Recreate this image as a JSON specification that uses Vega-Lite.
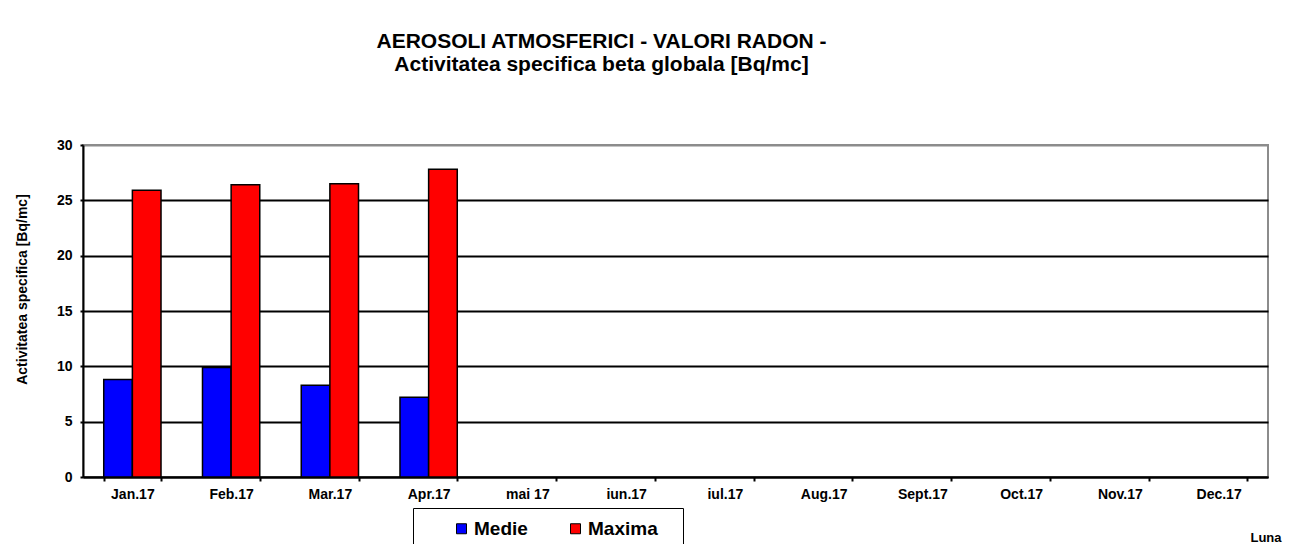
{
  "$schema": "https://vega.github.io/schema/vega-lite/v6.json",
  "autosize": {"type": "none"},
  "width": 1185,
  "height": 332,
  "padding": {"left": 83, "top": 145, "right": 24, "bottom": 67},
  "background": "white",
  "title": {
    "text": ["AEROSOLI ATMOSFERICI - VALORI RADON -", "Activitatea specifica beta globala [Bq/mc]"],
    "font": "Liberation Sans",
    "fontSize": 21,
    "fontWeight": "bold",
    "color": "black",
    "anchor": "middle",
    "dx": -74,
    "offset": 63,
    "lineHeight": 23
  },
  "config": {
    "view": {"stroke": "#8c8c8c", "strokeWidth": 2},
    "font": "Liberation Sans"
  },
  "data": {
    "values": [
      {"month": "Jan.17", "series": "Medie", "value": 8.8},
      {"month": "Jan.17", "series": "Maxima", "value": 25.9},
      {"month": "Feb.17", "series": "Medie", "value": 9.9},
      {"month": "Feb.17", "series": "Maxima", "value": 26.4},
      {"month": "Mar.17", "series": "Medie", "value": 8.3},
      {"month": "Mar.17", "series": "Maxima", "value": 26.5},
      {"month": "Apr.17", "series": "Medie", "value": 7.2},
      {"month": "Apr.17", "series": "Maxima", "value": 27.8}
    ]
  },
  "mark": {"type": "bar", "stroke": "black", "strokeWidth": 1.5},
  "encoding": {
    "x": {
      "field": "month",
      "type": "nominal",
      "sort": null,
      "scale": {
        "domain": ["Jan.17", "Feb.17", "Mar.17", "Apr.17", "mai 17", "iun.17", "iul.17", "Aug.17", "Sept.17", "Oct.17", "Nov.17", "Dec.17"],
        "paddingInner": 0.42,
        "paddingOuter": 0.21
      },
      "axis": {
        "labelAngle": 0,
        "tickBand": "extent",
        "ticks": true,
        "tickSize": 4,
        "tickColor": "black",
        "tickWidth": 2,
        "domainColor": "black",
        "domainWidth": 2,
        "labelFont": "Liberation Sans",
        "labelFontSize": 14,
        "labelFontWeight": "bold",
        "labelColor": "black",
        "labelPadding": 6,
        "grid": false,
        "title": "Luna",
        "titleFont": "Liberation Sans",
        "titleFontSize": 13,
        "titleFontWeight": "bold",
        "titleColor": "black",
        "titleAlign": "right",
        "titleAnchor": null,
        "titleX": 1198,
        "titleY": 60,
        "titleBaseline": "middle"
      }
    },
    "xOffset": {
      "field": "series",
      "type": "nominal",
      "sort": ["Medie", "Maxima"],
      "scale": {"paddingInner": 0, "paddingOuter": 0}
    },
    "y": {
      "field": "value",
      "type": "quantitative",
      "scale": {"domain": [0, 30], "nice": false},
      "axis": {
        "values": [0, 5, 10, 15, 20, 25, 30],
        "grid": true,
        "gridColor": {"condition": {"test": "datum.value == 30", "value": "#8c8c8c"}, "value": "black"},
        "gridWidth": 2,
        "domainColor": "black",
        "domainWidth": 2,
        "tickColor": "black",
        "tickWidth": 2,
        "tickSize": 3,
        "labelFont": "Liberation Sans",
        "labelFontSize": 14,
        "labelFontWeight": "bold",
        "labelColor": "black",
        "labelPadding": 8,
        "title": "Activitatea  specifica  [Bq/mc]",
        "titleFont": "Liberation Sans",
        "titleFontSize": 14,
        "titleFontWeight": "bold",
        "titleColor": "black",
        "titleX": -61,
        "titleY": 144,
        "titleAlign": "center",
        "titleBaseline": "middle",
        "titleAngle": 270
      }
    },
    "color": {
      "field": "series",
      "type": "nominal",
      "sort": ["Medie", "Maxima"],
      "scale": {"domain": ["Medie", "Maxima"], "range": ["#0000FF", "#FF0000"]},
      "legend": {
        "orient": "none",
        "legendX": 330,
        "legendY": 363,
        "direction": "horizontal",
        "title": "\u00a0",
        "titleOrient": "left",
        "titlePadding": 28,
        "titleFontSize": 18,
        "strokeColor": "black",
        "fillColor": "white",
        "padding": 11,
        "symbolType": "square",
        "symbolSize": 100,
        "symbolStrokeColor": "black",
        "symbolStrokeWidth": 1,
        "symbolOpacity": 1,
        "labelFont": "Liberation Sans",
        "labelFontSize": 19,
        "labelFontWeight": "bold",
        "labelColor": "black",
        "labelOffset": 3,
        "columnPadding": 38,
        "labelExpr": "datum.label == 'Maxima' ? 'Maxima\u2800' : datum.label"
      }
    }
  }
}
